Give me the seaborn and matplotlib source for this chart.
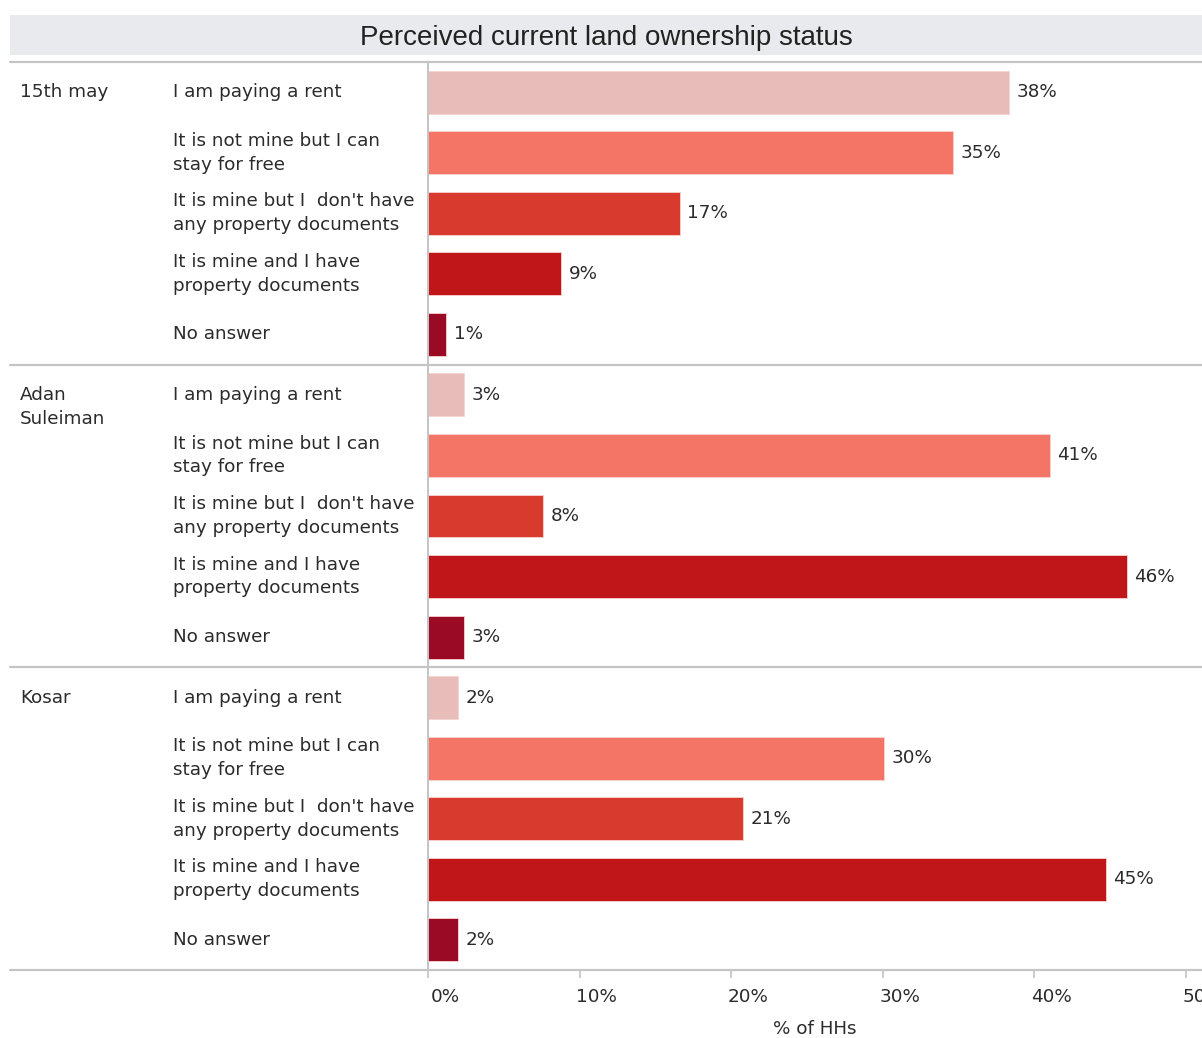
import matplotlib
matplotlib.use("Agg")
import matplotlib.pyplot as plt
import matplotlib.transforms as mtrans
from matplotlib.patches import Rectangle
from matplotlib.lines import Line2D
import seaborn as sns
import pandas as pd

# ---------------- data ----------------
groups = ["15th may", "Adan\nSuleiman", "Kosar"]
categories = [
    "I am paying a rent",
    "It is not mine but I can\nstay for free",
    "It is mine but I  don't have\nany property documents",
    "It is mine and I have\nproperty documents",
    "No answer",
]
values_15th_may = [38.3, 34.6, 16.6, 8.8, 1.2]
values_adan = [2.4, 41.0, 7.6, 46.1, 2.4]
values_kosar = [2.0, 30.1, 20.8, 44.7, 2.0]
labels_15th_may = [38, 35, 17, 9, 1]
labels_adan = [3, 41, 8, 46, 3]
labels_kosar = [2, 30, 21, 45, 2]
colors = ["#e8bcb8", "#f47466", "#d93a2e", "#c0161a", "#9a0a24"]
x_ticks = [0, 10, 20, 30, 40, 50]
title = "Perceived current land ownership status"
x_label = "% of HHs"

all_values = [values_15th_may, values_adan, values_kosar]
all_labels = [labels_15th_may, labels_adan, labels_kosar]

rows = []
for g, vals, labs in zip(groups, all_values, all_labels):
    for c, v, l in zip(categories, vals, labs):
        rows.append({"group": g, "category": c, "row": g + "|" + c,
                     "value": v, "label": l})
df = pd.DataFrame(rows)

# ---------------- figure ----------------
sns.set_theme(style="white")
plt.rcParams["font.family"] = ["DejaVu Sans"]
W, H = 1202, 1038
fig = plt.figure(figsize=(W / 100, H / 100), dpi=100)

px_per_pct = 15.16
x0_px, top_px, bot_px = 428, 62, 970
ax = fig.add_axes([x0_px / W, (H - bot_px) / H, (W - x0_px) / W, (bot_px - top_px) / H])

sns.barplot(data=df, y="row", x="value", hue="category", order=list(df["row"]),
            hue_order=categories, palette=colors, orient="h", dodge=False,
            saturation=1, width=0.71, legend=False, ax=ax,
            edgecolor="#f6d4d0", linewidth=0.6)

ax.set_xlim(0, (W - x0_px) / px_per_pct)
ax.set_ylim(len(df) - 0.5, -0.5)

txt_color = "#2b2b2b"
fs = 13.2

# value labels
for i, r in df.iterrows():
    ax.annotate(f"{r['label']}%", xy=(r["value"], i), xytext=(5.5, 0),
                textcoords="offset points", va="center", ha="left",
                fontsize=fs, color=txt_color)

# left labels
blend = mtrans.blended_transform_factory(fig.transFigure, ax.transData)
for i, r in df.iterrows():
    ax.text(173 / W, i, r["category"], transform=blend, ha="left", va="center",
            fontsize=fs, color=txt_color, linespacing=1.42)
for gi, g in enumerate(groups):
    for li, line in enumerate(g.split("\n")):
        ax.text(20 / W, gi * 5 + li * 0.4, line, transform=blend, ha="left",
                va="center", fontsize=fs, color=txt_color)

# separators
sep_color = "#c4c4c4"
for yb in [-0.5, 4.5, 9.5, 14.5]:
    ax.add_line(Line2D([10 / W, 1.0], [yb, yb], transform=blend, color=sep_color,
                       lw=1.6, clip_on=False))

# axes styling
for s in ["top", "right", "bottom"]:
    ax.spines[s].set_visible(False)
ax.spines["left"].set_color(sep_color)
ax.spines["left"].set_linewidth(1.4)
ax.set_yticks([])
ax.set_ylabel("")
ax.set_xticks(x_ticks)
ax.set_xticklabels([f"{t}%" for t in x_ticks], fontsize=fs, color=txt_color)
ax.tick_params(axis="x", bottom=True, length=6, width=1.2, color=sep_color, pad=7)
off = mtrans.ScaledTranslation(17 / 100, 0, fig.dpi_scale_trans)
for lab in ax.get_xticklabels():
    lab.set_transform(lab.get_transform() + off)
ax.set_xlabel(x_label, fontsize=fs, color=txt_color, labelpad=10)

# title band
fig.patches.append(Rectangle((10 / W, (H - 55) / H), 1 - 10 / W, 40 / H,
                             transform=fig.transFigure, facecolor="#e9eaee",
                             edgecolor="none", zorder=0))
fig.text(606 / W, (H - 38) / H, title, ha="center", va="center",
         fontsize=20, color="#222222", family=["Liberation Sans", "DejaVu Sans"])

fig.savefig("out.png", dpi=100)
